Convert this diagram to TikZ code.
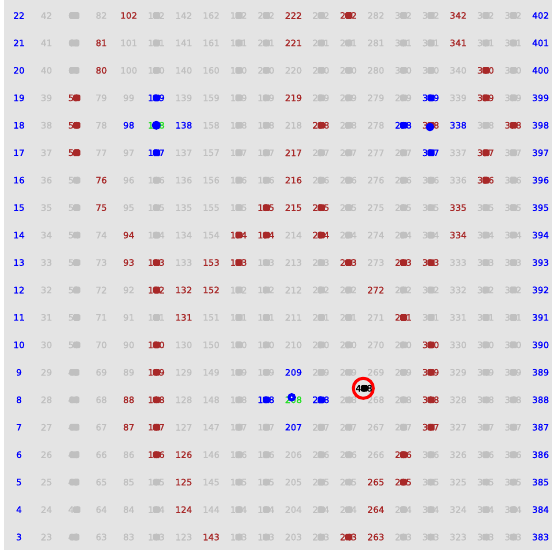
\documentclass[tikz,border=0pt]{standalone}
\usepackage{fontspec}
\setmainfont{DejaVu Sans}
\newfontfamily\numfont[FakeBold=0.7]{DejaVu Sans}
\definecolor{bg}{HTML}{E4E4E4}
\definecolor{gr}{HTML}{C0C0C0}
\definecolor{rd}{HTML}{A82828}
\definecolor{bl}{HTML}{0000FF}
\definecolor{gn}{HTML}{22E022}
\definecolor{ringred}{HTML}{FF0000}
\makeatletter
\@for\x:=102,81,80,59,58,57,76,75,94,93,113,112,110,109,108,107,106,88,87,132,131,126,125,124,143,153,152,173,174,194,195,222,221,219,217,216,215,235,234,238,253,243,262,272,265,264,263,285,286,291,293,313,310,309,308,307,318,335,334,342,341,360,359,357,356,378\do{\expandafter\gdef\csname cc@\x\endcsname{rd}}
\@for\x:=3,4,5,6,7,8,9,10,11,12,13,14,15,16,17,18,19,20,21,22,383,384,385,386,387,388,389,390,391,392,393,394,395,396,397,398,399,400,401,402,119,117,98,138,319,298,338,317,209,188,228,207\do{\expandafter\gdef\csname cc@\x\endcsname{bl}}
\@for\x:=118,208\do{\expandafter\gdef\csname cc@\x\endcsname{gn}}
\@for\x:=2,5,8,9,11,12,14,15,17,18\do{\expandafter\gdef\csname bc@\x\endcsname{1}}
\newcommand\cellcol[1]{\def\col{gr}\ifcsname cc@#1\endcsname\edef\col{\csname cc@#1\endcsname}\fi}
\newcommand\getblob[2]{%
  \def\bw{0}\def\bo{0}\def\bop{0}%
  \ifcsname bc@#1\endcsname\def\bw{3.6}\def\bo{0.3}\def\bop{1}\fi
  \ifnum#1=2\relax
    \def\bo{0.5}\def\bw{5}%
    \ifnum#2>49\relax\ifnum#2<60\relax\def\bo{2.8}\def\bw{3.6}\fi\fi
    \ifnum#2=44\relax\def\bo{2.8}\def\bw{3.6}\fi
  \fi}
\makeatother
\begin{document}
\begin{tikzpicture}[x=1pt,y=-1pt,
  num/.style={inner sep=0pt, font=\numfont\fontsize{8.8}{9}\selectfont},
  bdot/.style={circle, fill=bl, inner sep=0pt, minimum size=9pt}]
\fill[white] (0,0) rectangle (552,552);
\fill[bg] (4,0) rectangle (552,550);
\useasboundingbox (0,0) rectangle (552,552);
\foreach \j in {0,...,19}{
  \foreach \i in {0,...,19}{
    \pgfmathtruncatemacro\v{20*\j+22-\i}
    \cellcol{\v}
    \getblob{\j}{\v}
    \node[num,text=\col] (n\v) at ({19+27.45*\j},{15.5+27.45*\i}) {\v};
    \fill[fill=\col, fill opacity=\bop, rounded corners=1.2pt, shift={(n\v.center)}] (\bo-\bw,-3.3) rectangle (\bo+\bw,3.3);
  }
}
% markers
\node[bdot] (d118) at (n118.center) {};
\node[bdot, minimum size=8.5pt] (d208) at ([shift={(-1.8,-2.5)}]n208.center) {};
\node[circle, fill=white, inner sep=0pt, minimum size=1.8pt] (c208) at (d208.center) {};
\node[bdot, minimum size=8.5pt] (d318) at ([shift={(-0.8,1.7)}]n318.center) {};
% highlighted cell
\node[circle, draw=ringred, line width=3pt, minimum size=20pt, inner sep=0pt] (ring) at (363.3,388.3) {};
\node[num, text=black] (t408) at (364,388.3) {408};
\fill[black, rounded corners=1.2pt, shift={(t408.center)}] (-3.2,-3.3) rectangle (3.8,3.3);
\end{tikzpicture}
\end{document}
